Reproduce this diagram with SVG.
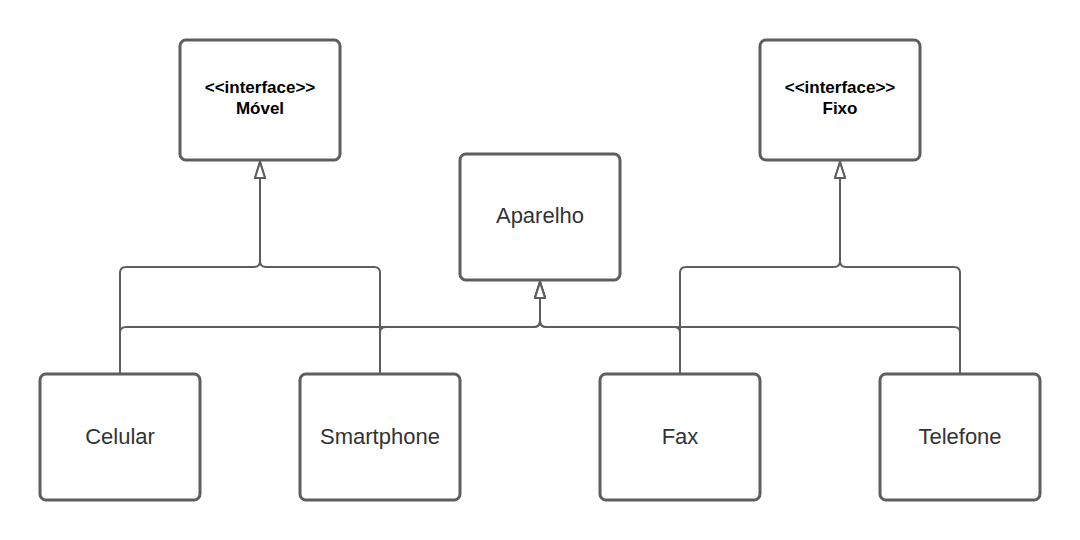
<svg xmlns="http://www.w3.org/2000/svg" width="1080" height="540" viewBox="0 0 1080 540">
<defs>
<style>
.box{fill:#ffffff;stroke:#5e5e5e;stroke-width:3}
.t{font-family:"Liberation Sans",Arial,sans-serif;font-size:22px;fill:#333333;text-anchor:middle}
.b{font-family:"Liberation Sans",Arial,sans-serif;font-size:17px;font-weight:bold;fill:#000000;text-anchor:middle}
.c{fill:none;stroke:#5e5e5e;stroke-width:2}
</style>
<marker id="tri" markerUnits="userSpaceOnUse" viewBox="0 0 18 12" refX="17" refY="6" markerWidth="18" markerHeight="12" orient="auto">
<path d="M1,1 L17,6 L1,11 Z" fill="#ffffff" stroke="#5e5e5e" stroke-width="2"/>
</marker>
</defs>
<rect width="1080" height="540" fill="#ffffff"/>
<g id="connectors">
<path class="c" d="M120,374 V333 Q120,327 126,327 H534 Q540,327 540,321 V282" marker-end="url(#tri)"/>
<path class="c" d="M380,374 V333 Q380,327 386,327 H534 Q540,327 540,321 V282" marker-end="url(#tri)"/>
<path class="c" d="M680,374 V333 Q680,327 674,327 H546 Q540,327 540,321 V282" marker-end="url(#tri)"/>
<path class="c" d="M960,374 V333 Q960,327 954,327 H546 Q540,327 540,321 V282" marker-end="url(#tri)"/>
<path class="c" d="M120,374 V273 Q120,267 126,267 H254 Q260,267 260,261 V162" marker-end="url(#tri)"/>
<path class="c" d="M380,374 V273 Q380,267 374,267 H266 Q260,267 260,261 V162" marker-end="url(#tri)"/>
<path class="c" d="M680,374 V273 Q680,267 686,267 H834 Q840,267 840,261 V162" marker-end="url(#tri)"/>
<path class="c" d="M960,374 V273 Q960,267 954,267 H846 Q840,267 840,261 V162" marker-end="url(#tri)"/>
</g>
<g id="movel">
<rect class="box" x="180" y="40" width="160" height="120" rx="6"/>
<text class="b" x="260" y="93">&lt;&lt;interface&gt;&gt;</text>
<text class="b" x="260" y="114">Móvel</text>
</g>
<g id="fixo">
<rect class="box" x="760" y="40" width="160" height="120" rx="6"/>
<text class="b" x="840" y="93">&lt;&lt;interface&gt;&gt;</text>
<text class="b" x="840" y="114">Fixo</text>
</g>
<g id="aparelho">
<rect class="box" x="460" y="154" width="160" height="126" rx="6"/>
<text class="t" x="540" y="223">Aparelho</text>
</g>
<g id="celular">
<rect class="box" x="40" y="374" width="160" height="126" rx="6"/>
<text class="t" x="120" y="444">Celular</text>
</g>
<g id="smartphone">
<rect class="box" x="300" y="374" width="160" height="126" rx="6"/>
<text class="t" x="380" y="444">Smartphone</text>
</g>
<g id="fax">
<rect class="box" x="600" y="374" width="160" height="126" rx="6"/>
<text class="t" x="680" y="444">Fax</text>
</g>
<g id="telefone">
<rect class="box" x="880" y="374" width="160" height="126" rx="6"/>
<text class="t" x="960" y="444">Telefone</text>
</g>
</svg>
